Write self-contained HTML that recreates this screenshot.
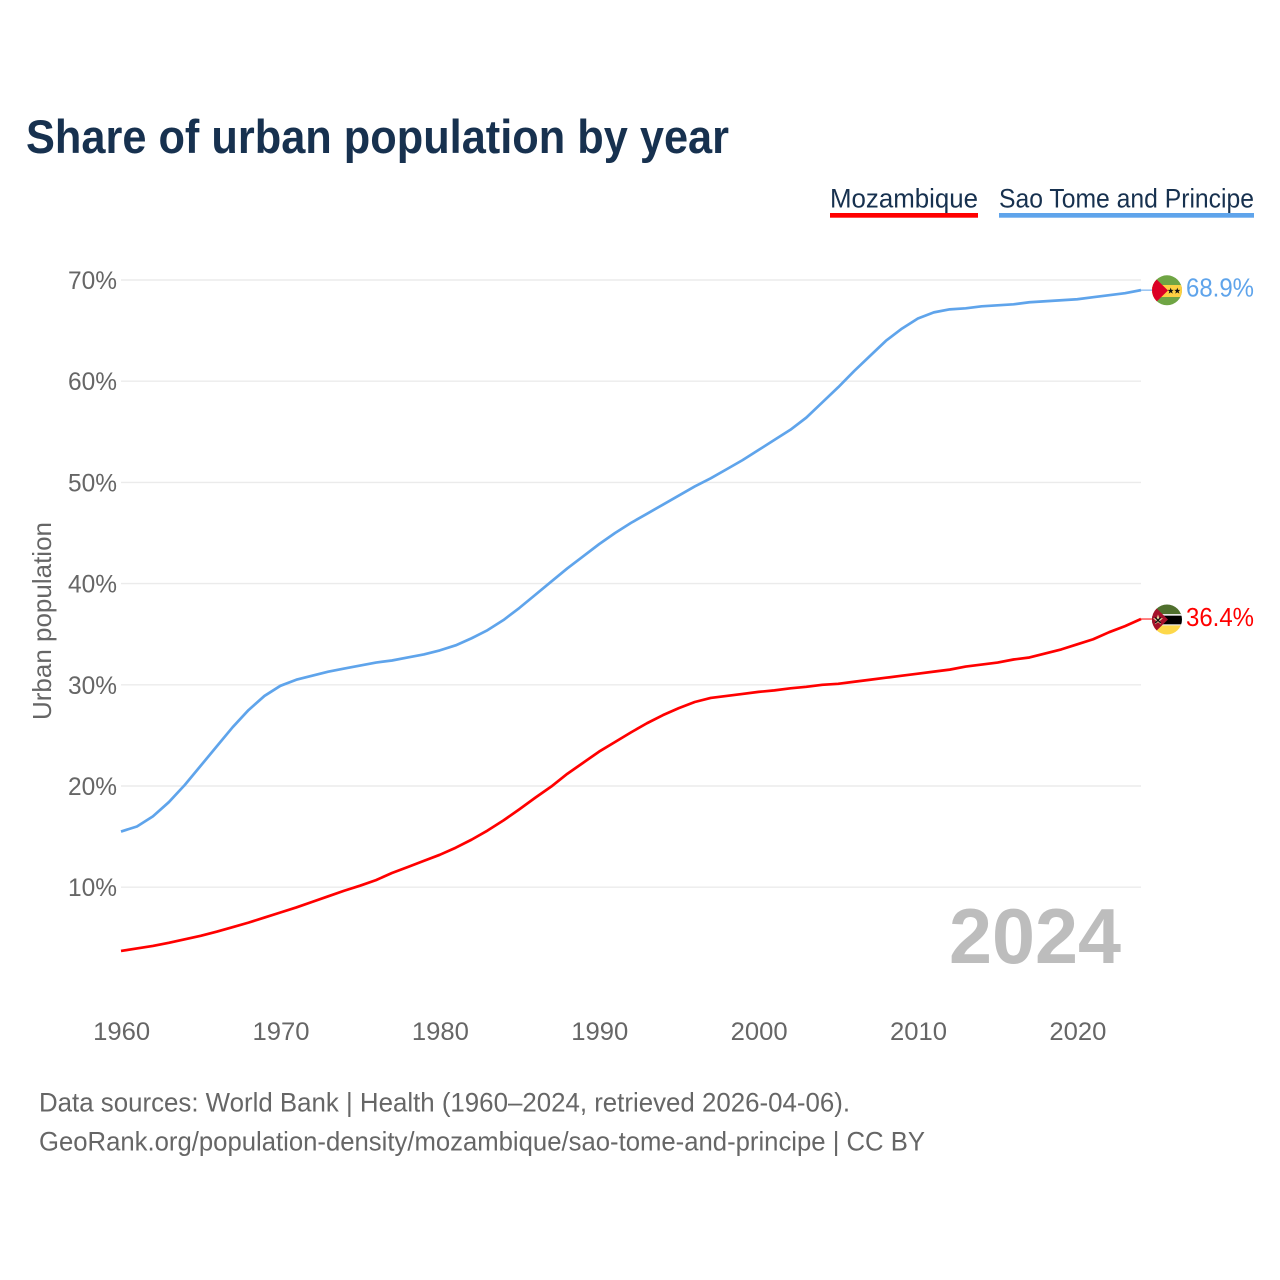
<!DOCTYPE html>
<html lang="en">
<head>
<meta charset="utf-8">
<title>Share of urban population by year</title>
<style>
  html, body { margin: 0; padding: 0; background: #fff; }
  svg { display: block; }
  text { font-family: "Liberation Sans", sans-serif; }
</style>
</head>
<body>
<svg id="chart" xmlns="http://www.w3.org/2000/svg" width="1280" height="1280" viewBox="0 0 1280 1280">
  <defs>
    <clipPath id="flag-clip-stp"><circle cx="1167" cy="290.3" r="15"/></clipPath>
    <clipPath id="flag-clip-moz"><circle cx="1167" cy="619.5" r="15"/></clipPath>
  </defs>
  <rect width="1280" height="1280" fill="#fff"/>
  <text x="26" y="153" font-size="47" font-weight="700" fill="#17314f" textLength="703" lengthAdjust="spacingAndGlyphs">Share of urban population by year</text>

  <g>
    <g>
      <text x="830" y="207.5" font-size="27" fill="#17314f" textLength="148" lengthAdjust="spacingAndGlyphs">Mozambique</text>
      <rect x="830" y="213" width="148" height="4.7" fill="#ff0000"/>
    </g>
    <g>
      <text x="999" y="207.5" font-size="27" fill="#17314f" textLength="255" lengthAdjust="spacingAndGlyphs">Sao Tome and Principe</text>
      <rect x="999" y="213" width="255" height="4.7" fill="#5fa4eb"/>
    </g>
  </g>

  <g id="grid"></g>
  <g id="y-ticks"></g>
  <g id="x-ticks"></g>

  <text transform="translate(51 720) rotate(-90)" font-size="26" fill="#666" textLength="198" lengthAdjust="spacingAndGlyphs">Urban population</text>

  <text x="949" y="963" font-size="78" font-weight="700" fill="#bdbdbd" textLength="172" lengthAdjust="spacingAndGlyphs">2024</text>

  <g id="series"></g>

  <g clip-path="url(#flag-clip-stp)">
    <rect x="1150" y="273" width="34" height="35" fill="#6fa544"/>
    <rect x="1150" y="285" width="34" height="12" fill="#fdd043"/>
    <polygon points="1150,273 1168,290.5 1150,308" fill="#dc0026"/>
    <polygon points="1170.7,287.6 1171.5,289.9 1173.8,289.9 1172,291.3 1172.7,293.6 1170.7,292.2 1168.7,293.6 1169.4,291.3 1167.6,289.9 1169.9,289.9" fill="#111"/>
    <polygon points="1177.3,287.6 1178.1,289.9 1180.4,289.9 1178.6,291.3 1179.3,293.6 1177.3,292.2 1175.3,293.6 1176,291.3 1174.2,289.9 1176.5,289.9" fill="#111"/>
  </g>
  <text x="1186" y="296.5" font-size="26" fill="#5fa4eb" textLength="68" lengthAdjust="spacingAndGlyphs">68.9%</text>

  <g clip-path="url(#flag-clip-moz)">
    <rect x="1150" y="603" width="34" height="12" fill="#4f6f2d"/>
    <rect x="1150" y="614" width="34" height="12" fill="#e8e8e8"/>
    <rect x="1150" y="615.7" width="34" height="8.6" fill="#000"/>
    <rect x="1150" y="625.5" width="34" height="12" fill="#fdd84a"/>
    <polygon points="1150,602 1168,619.5 1150,637" fill="#a5112b"/>
    <polygon points="1158,614.5 1159.3,618.3 1163,618.3 1160,620.7 1161.2,624.5 1158,622.2 1154.8,624.5 1156,620.7 1153,618.3 1156.7,618.3" fill="#e8d9a0"/>
    <path d="M1155.2 617.5 L1160.8 623 M1160.8 617.5 L1155.2 623" stroke="#111" stroke-width="1.3"/>
  </g>
  <text x="1186" y="626" font-size="26" fill="#ff0000" textLength="68" lengthAdjust="spacingAndGlyphs">36.4%</text>

  <g>
    <text x="39" y="1111.5" font-size="26.5" fill="#666" textLength="811" lengthAdjust="spacingAndGlyphs">Data sources: World Bank | Health (1960–2024, retrieved 2026-04-06).</text>
    <text x="39" y="1150.5" font-size="26.5" fill="#666" textLength="886" lengthAdjust="spacingAndGlyphs">GeoRank.org/population-density/mozambique/sao-tome-and-principe | CC BY</text>
  </g>
</svg>
<script>
const years = [1960,1961,1962,1963,1964,1965,1966,1967,1968,1969,
  1970,1971,1972,1973,1974,1975,1976,1977,1978,1979,
  1980,1981,1982,1983,1984,1985,1986,1987,1988,1989,
  1990,1991,1992,1993,1994,1995,1996,1997,1998,1999,
  2000,2001,2002,2003,2004,2005,2006,2007,2008,2009,
  2010,2011,2012,2013,2014,2015,2016,2017,2018,2019,
  2020,2021,2022,2023,2024];
const saoTomeValues = [15.5,16.0,17.0,18.4,20.1,22.0,23.9,25.8,27.5,28.9,
  29.9,30.5,30.9,31.3,31.6,31.9,32.2,32.4,32.7,33.0,
  33.4,33.9,34.6,35.4,36.4,37.6,38.9,40.2,41.5,42.7,
  43.9,45.0,46.0,46.9,47.8,48.7,49.6,50.4,51.3,52.2,
  53.2,54.2,55.2,56.4,57.9,59.4,61.0,62.5,64.0,65.2,
  66.2,66.8,67.1,67.2,67.4,67.5,67.6,67.8,67.9,68.0,
  68.1,68.3,68.5,68.7,69.0];
const mozambiqueValues = [3.7,3.95,4.2,4.5,4.85,5.2,5.6,6.05,6.5,7.0,
  7.5,8.0,8.55,9.1,9.65,10.15,10.7,11.4,12.0,12.6,
  13.2,13.9,14.7,15.6,16.6,17.7,18.85,19.95,21.2,22.3,
  23.4,24.35,25.3,26.2,27.0,27.7,28.3,28.7,28.9,29.1,
  29.3,29.45,29.65,29.8,30.0,30.1,30.3,30.5,30.7,30.9,
  31.1,31.3,31.5,31.8,32.0,32.2,32.5,32.7,33.1,33.5,
  34.0,34.5,35.2,35.8,36.5];
const yTickValues = [10,20,30,40,50,60,70];
const yTickLabels = ["10%","20%","30%","40%","50%","60%","70%"];
const xTickValues = [1960,1970,1980,1990,2000,2010,2020];
const xTickLabels = ["1960","1970","1980","1990","2000","2010","2020"];

const NS = "http://www.w3.org/2000/svg";
const xScale = function (year) { return 121 + (year - 1960) * (1141 - 121) / 64; };
const yScale = function (value) { return 280 + (70 - value) * 10.12; };

const gridGroup = document.getElementById("grid");
const yTickGroup = document.getElementById("y-ticks");
const xTickGroup = document.getElementById("x-ticks");
const seriesGroup = document.getElementById("series");

yTickValues.forEach(function (value, i) {
  const line = document.createElementNS(NS, "line");
  
  
  line.setAttribute("x1", xScale(1960));
  line.setAttribute("x2", xScale(2024));
  line.setAttribute("y1", yScale(value));
  line.setAttribute("y2", yScale(value));
  line.setAttribute("stroke", "#ebebeb");
  line.setAttribute("stroke-width", "1.4");
  gridGroup.appendChild(line);

  const label = document.createElementNS(NS, "text");
  
  
  label.setAttribute("x", 117);
  label.setAttribute("y", yScale(value) + 9);
  label.setAttribute("text-anchor", "end");
  label.setAttribute("font-size", "25");
  label.setAttribute("fill", "#666");
  label.setAttribute("textLength", "49");
  label.setAttribute("lengthAdjust", "spacingAndGlyphs");
  label.textContent = yTickLabels[i];
  yTickGroup.appendChild(label);
});

xTickValues.forEach(function (year, i) {
  const label = document.createElementNS(NS, "text");
  
  
  label.setAttribute("x", xScale(year) + 0.7);
  label.setAttribute("y", 1040);
  label.setAttribute("text-anchor", "middle");
  label.setAttribute("font-size", "25");
  label.setAttribute("fill", "#666");
  label.setAttribute("textLength", "57");
  label.setAttribute("lengthAdjust", "spacingAndGlyphs");
  label.textContent = xTickLabels[i];
  xTickGroup.appendChild(label);
});

function seriesPoints(values) {
  const points = values.map(function (value, i) {
    return xScale(years[i]).toFixed(2) + "," + yScale(value).toFixed(2);
  });
  return points.join(" ");
}

function lastPoint(values) {
  return { x: xScale(years[years.length - 1]), y: yScale(values[values.length - 1]) };
}

const blueLine = document.createElementNS(NS, "polyline");


blueLine.setAttribute("points", seriesPoints(saoTomeValues));
blueLine.setAttribute("fill", "none");
blueLine.setAttribute("stroke", "#5fa4eb");
blueLine.setAttribute("stroke-width", "2.7");
blueLine.setAttribute("stroke-linejoin", "round");
seriesGroup.appendChild(blueLine);

const redLine = document.createElementNS(NS, "polyline");


redLine.setAttribute("points", seriesPoints(mozambiqueValues));
redLine.setAttribute("fill", "none");
redLine.setAttribute("stroke", "#ff0000");
redLine.setAttribute("stroke-width", "2.7");
redLine.setAttribute("stroke-linejoin", "round");
seriesGroup.appendChild(redLine);

const blueEnd = lastPoint(saoTomeValues);
const blueLeader = document.createElementNS(NS, "line");


blueLeader.setAttribute("x1", blueEnd.x);
blueLeader.setAttribute("x2", blueEnd.x + 11);
blueLeader.setAttribute("y1", blueEnd.y);
blueLeader.setAttribute("y2", blueEnd.y);
blueLeader.setAttribute("stroke", "#5fa4eb");
blueLeader.setAttribute("stroke-width", "1");
seriesGroup.appendChild(blueLeader);

const redEnd = lastPoint(mozambiqueValues);
const redLeader = document.createElementNS(NS, "line");


redLeader.setAttribute("x1", redEnd.x);
redLeader.setAttribute("x2", redEnd.x + 11);
redLeader.setAttribute("y1", redEnd.y);
redLeader.setAttribute("y2", redEnd.y);
redLeader.setAttribute("stroke", "#ff0000");
redLeader.setAttribute("stroke-width", "1");
seriesGroup.appendChild(redLeader);
</script>
</body>
</html>
